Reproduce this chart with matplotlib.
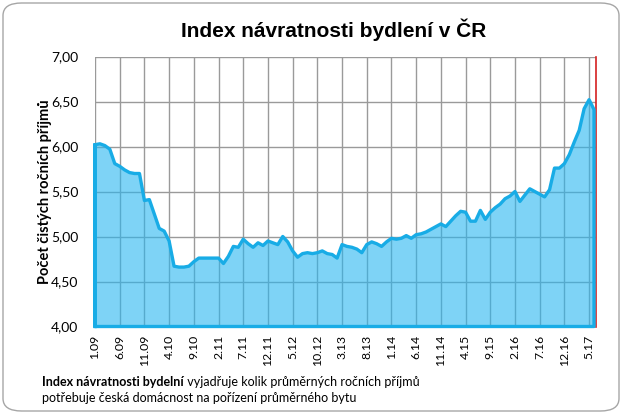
import matplotlib.pyplot as plt
from matplotlib.patches import FancyBboxPatch
import numpy as np

# monthly index values, 1.09 .. 6.17
values = [
    6.02, 6.03, 6.01, 5.97, 5.81, 5.78, 5.74, 5.71, 5.70, 5.70,
    5.40, 5.41, 5.25, 5.09, 5.06, 4.95, 4.67, 4.66, 4.66, 4.67,
    4.72, 4.76, 4.76, 4.76, 4.76, 4.76, 4.70, 4.78, 4.89, 4.88,
    4.97, 4.92, 4.88, 4.93, 4.90, 4.95, 4.93, 4.91, 5.00, 4.94,
    4.84, 4.77, 4.81, 4.82, 4.81, 4.82, 4.84, 4.81, 4.80, 4.76,
    4.91, 4.89, 4.88, 4.86, 4.82, 4.91, 4.94, 4.92, 4.89, 4.94,
    4.98, 4.97, 4.98, 5.01, 4.98, 5.02, 5.03, 5.05, 5.08, 5.11,
    5.14, 5.11, 5.17, 5.23, 5.28, 5.27, 5.17, 5.17, 5.29, 5.19,
    5.27, 5.32, 5.36, 5.42, 5.45, 5.50, 5.39, 5.46, 5.53, 5.50,
    5.47, 5.44, 5.52, 5.76, 5.76, 5.81, 5.91, 6.05, 6.18, 6.42,
    6.52, 6.41,
]
tick_labels = ["1.09", "6.09", "11.09", "4.10", "9.10", "2.11", "7.11",
               "12.11", "5.12", "10.12", "3.13", "8.13", "1.14", "6.14",
               "11.14", "4.15", "9.15", "2.16", "7.16", "12.16", "5.17"]
y_ticks = [4.0, 4.5, 5.0, 5.5, 6.0, 6.5, 7.0]

title = "Index návratnosti bydlení v ČR"
ylabel = "Počet čistých ročních příjmů"
note_bold = "Index návratnosti bydelní"
note_rest = " vyjadřuje kolik průměrných ročních příjmů"
note_line2 = "potřebuje česká domácnost na pořízení průměrného bytu"

x = np.arange(len(values))
tick_pos = np.arange(0, len(tick_labels) * 5, 5)

fig = plt.figure(figsize=(6.23, 4.17), dpi=100)
fig.patches.append(FancyBboxPatch((3 / 623, 6 / 417), 616 / 623, 408 / 417,
                                  boxstyle="round,pad=0,rounding_size=0.03",
                                  transform=fig.transFigure, fill=False,
                                  edgecolor="#a6a6a6", linewidth=1.0))

ax = fig.add_axes([95 / 623, 1 - 326.5 / 417, 501 / 623, 270 / 417])

ax.set_xlim(0, 101.4)
ax.set_ylim(4, 7)
ax.set_yticks(y_ticks)
ax.set_yticklabels(["{:.2f}".format(v).replace(".", ",") for v in y_ticks],
                   fontsize=10, family="Lato")
ax.set_xticks(tick_pos)
ax.set_xticklabels(tick_labels, rotation=90, fontsize=8.8, family="Lato")
ax.tick_params(length=0, pad=6)
ax.tick_params(axis="y", pad=12)
ax.grid(True, color="#9a9a9a", linewidth=1.0, zorder=0)
ax.set_axisbelow(True)

for s in ["left", "top", "bottom"]:
    ax.spines[s].set_visible(False)
ax.spines["right"].set_color("#d42020")
ax.spines["right"].set_linewidth(1.2)

ax.fill_between(x, 4, values, facecolor="#29b6f0", alpha=0.6,
                edgecolor="none", zorder=2)
# area outline (Excel draws the whole polygon border)
px = np.concatenate([[0], x, [x[-1], 0, 0]])
py = np.concatenate([[4], values, [4, 4, values[0]]])
ax.plot(px, py, color="#18ace6", linewidth=2.4, solid_joinstyle="round",
        zorder=3, clip_on=False)

ax.set_ylabel(ylabel, fontsize=10.5, fontweight="bold", family="Lato")
ax.yaxis.set_label_coords(-(95 - 52) / 501, 0.5)

fig.text(334 / 623, 1 - 30 / 417, title, ha="center", va="center",
         fontsize=15, fontweight="bold", family="Liberation Sans")

t1 = fig.text(42 / 623, 1 - 382 / 417, note_bold, ha="left", va="center",
              fontsize=9, fontweight="bold", family="Lato")
fig.canvas.draw()
bb = t1.get_window_extent(renderer=fig.canvas.get_renderer())
fig.text(bb.x1 / 623, 1 - 382 / 417, note_rest, ha="left", va="center",
         fontsize=9, family="Lato")
fig.text(42 / 623, 1 - 398 / 417, note_line2, ha="left", va="center",
         fontsize=9, family="Lato")

fig.savefig("out.png", dpi=100)
plt.close(fig)
